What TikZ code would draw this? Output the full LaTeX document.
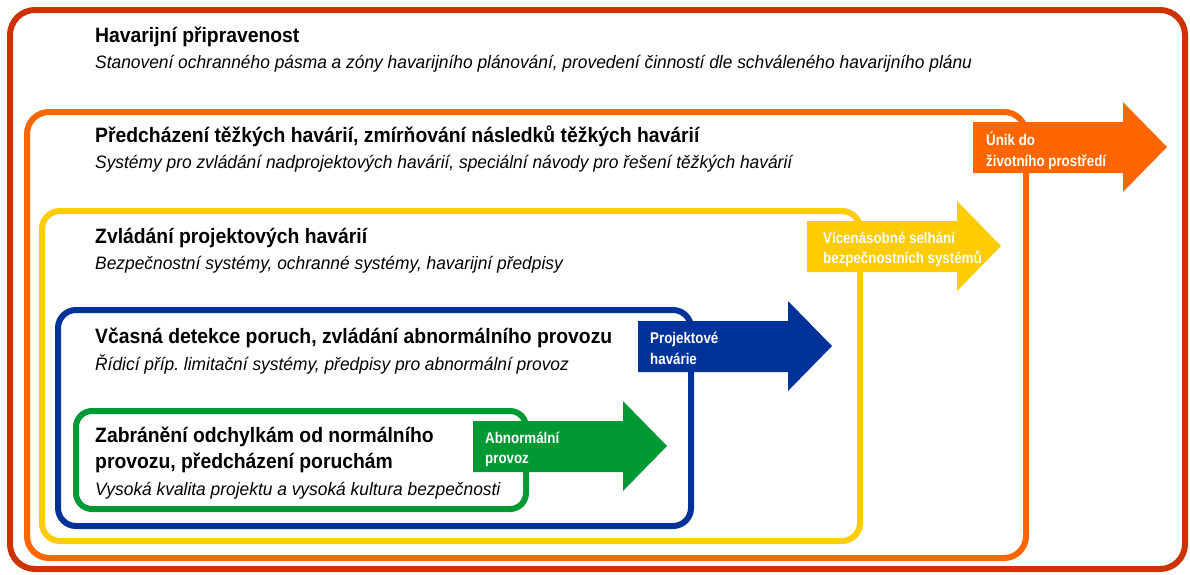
\documentclass[tikz,border=0pt]{standalone}
\usepackage{fontspec}
\setmainfont{Liberation Sans}
\newfontfamily\titlefont[FakeStretch=0.93]{Liberation Sans}
\newfontfamily\subfont[FakeStretch=0.965]{Liberation Sans}
\newfontfamily\arrowfont[FakeStretch=0.86]{Liberation Sans}
\frenchspacing
\definecolor{cred}{HTML}{CC3300}
\definecolor{corange}{HTML}{FF6600}
\definecolor{cyellow}{HTML}{FFCC00}
\definecolor{cblue}{HTML}{003399}
\definecolor{cgreen}{HTML}{009933}
\newcommand{\myarrow}[3]{\fill[#1] (#2,#3) -- ++(150,0) -- ++(0,-20) -- ++(44,45) -- ++(-44,45) -- ++(0,-19) -- ++(-150,0) -- cycle;}
\begin{document}
\begin{tikzpicture}[x=1pt,y=-1pt,
  frame/.style={line width=6pt},
  title/.style={anchor=base west,inner sep=0pt,font=\titlefont\bfseries\fontsize{20.8}{24}\selectfont},
  sub/.style={anchor=base west,inner sep=0pt,font=\subfont\itshape\fontsize{18}{21}\selectfont},
  alabel/.style={anchor=base west,inner sep=0pt,text=white,font=\arrowfont\bfseries\fontsize{15.5}{18}\selectfont}]
\useasboundingbox[fill=white] (0,0) rectangle (1190,574);
% frames
\draw[frame,cred,rounded corners=25pt] (10,10) rectangle (1185,569);
\draw[frame,corange,rounded corners=22pt] (27,112) rectangle (1026,558);
\myarrow{corange}{973}{122}
\draw[frame,cyellow,rounded corners=18pt] (42,211) rectangle (860,541);
\myarrow{cyellow}{807}{221}
\draw[frame,cblue,rounded corners=18pt] (58,310) rectangle (691,526);
\myarrow{cblue}{638}{321}
\draw[frame,cgreen,rounded corners=16pt] (76,411) rectangle (526,509);
\myarrow{cgreen}{473}{421}
% texts
\node[title] (t1) at (95,42) {Havarijní připravenost};
\node[sub] (s1) at (95,68) {Stanovení ochranného pásma a zóny havarijního plánování, provedení činností dle schváleného havarijního plánu};
\node[title] (t2) at (95,142) {Předcházení těžkých havárií, zmírňování následků těžkých havárií};
\node[sub] (s2) at (95,168) {Systémy pro zvládání nadprojektových havárií, speciální návody pro řešení těžkých havárií};
\node[title] (t3) at (95,243) {Zvládání projektových havárií};
\node[sub] (s3) at (95,269) {Bezpečnostní systémy, ochranné systémy, havarijní předpisy};
\node[title] (t4) at (95,343) {Včasná detekce poruch, zvládání abnormálního provozu};
\node[sub] (s4) at (95,370) {Řídicí příp. limitační systémy, předpisy pro abnormální provoz};
\node[title] (t5a) at (95,442) {Zabránění odchylkám od normálního};
\node[title] (t5b) at (95,468) {provozu, předcházení poruchám};
\node[sub] (s5) at (95,495) {Vysoká kvalita projektu a vysoká kultura bezpečnosti};
% arrow labels
\node[alabel] (a1a) at (986,145) {Únik do};
\node[alabel] (a1b) at (986,166) {životního prostředí};
\node[alabel] (a2a) at (823,243) {Vícenásobné selhání};
\node[alabel] (a2b) at (823,263) {bezpečnostních systémů};
\node[alabel] (a3a) at (650,343) {Projektové};
\node[alabel] (a3b) at (650,364) {havárie};
\node[alabel] (a4a) at (485,443) {Abnormální};
\node[alabel] (a4b) at (485,463) {provoz};
\end{tikzpicture}
\end{document}
